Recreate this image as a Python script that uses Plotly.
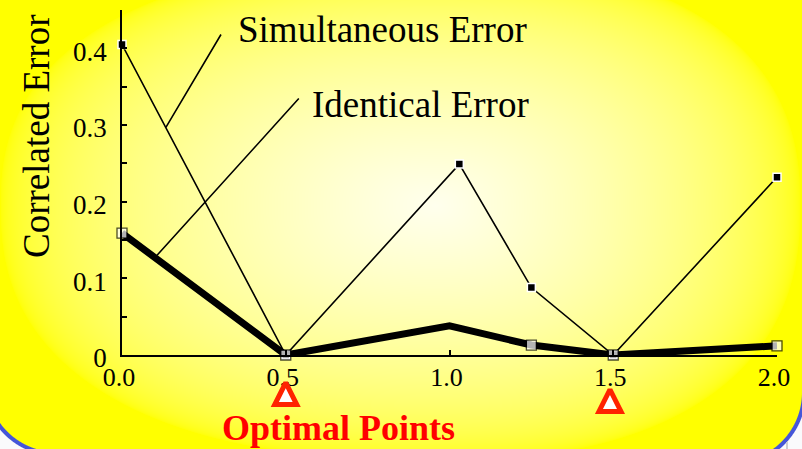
import base64, struct, zlib
import numpy as np
import plotly.graph_objects as go

# ---------------- data ----------------
sim_x = [0.0, 0.5, 1.03, 1.25, 1.5, 2.0]
sim_y = [0.405, 0.0, 0.249, 0.088, 0.0, 0.232]
ident_x = [0.0, 0.5, 1.0, 1.25, 1.5, 2.0]
ident_y = [0.159, 0.0, 0.038, 0.013, 0.0, 0.012]
optimal_x = [0.5, 1.49]
optimal_y = [-0.036, -0.045]
x_ticks = [0.0, 0.5, 1.0, 1.5, 2.0]
x_ticktext = ["0.0", "0.5", "1.0", "1.5", "2.0"]
y_ticks = [0.0, 0.1, 0.2, 0.3, 0.4]
y_ticktext = ["0", "0.1", "0.2", "0.3", "0.4"]

# ---------------- layout geometry ----------------
W, H = 802, 449
L, R, T, B = 122, 25, 10, 20
PW, PH = W - L - R, H - T - B
AXIS_Y = 355                      # pixel row of the x axis
Y_TOP = 0.45
SCALE = (AXIS_Y - T) / Y_TOP       # px per data unit
Y_DOM0 = (H - B - AXIS_Y) / PH
Y2_MIN = -(H - B - AXIS_Y) / SCALE
SERIF = "Liberation Serif, Times New Roman, serif"


def px(x):
    return (x - L) / PW


def py(y):
    return (H - B - y) / PH


# ---------------- background image (gradient panel) ----------------
yy, xx = np.mgrid[0:H, 0:W].astype(float)
cx, cy = 435.0, 205.0
ax = np.where(xx < cx, 435.0, 365.0)
ay = np.where(yy < cy, 245.0, 255.0)
p = 2.4
d = (np.abs((xx - cx) / ax) ** p + np.abs((yy - cy) / ay) ** p) ** (1 / p)
d = np.clip(d, 0, 1)
blue_ch = 238.0 * np.sqrt(1 - d)
img = np.zeros((H, W, 3), float)
img[..., 0] = 255
img[..., 1] = 255
img[..., 2] = blue_ch

dist = np.full((H, W), -100.0)
r = 70.0
m1 = (xx < 56) & (yy > 382)
dist[m1] = np.hypot(xx[m1] - 56, yy[m1] - 382) - r
m2 = (xx > 732) & (yy > 392)
dist[m2] = np.hypot(xx[m2] - 732, yy[m2] - 392) - r
blue = np.array([70, 86, 216], float)
white = np.array([250, 250, 252], float)
a_blue = np.clip(dist + 1.0, 0, 1)[..., None]
a_out = np.clip(dist - 3.0, 0, 1)[..., None]
img = img * (1 - a_blue) + blue * a_blue
img = img * (1 - a_out) + white * a_out
edge = (np.abs(xx - 786.5) < 1.2) & (dist > 3.5)
img[edge] = [205, 205, 212]
img = np.clip(img, 0, 255).astype(np.uint8)


def png_bytes(arr):
    h, w, _ = arr.shape
    raw = b"".join(b"\x00" + arr[i].tobytes() for i in range(h))

    def chunk(t, data):
        c = struct.pack(">I", len(data)) + t + data
        return c + struct.pack(">I", zlib.crc32(t + data) & 0xFFFFFFFF)

    return (b"\x89PNG\r\n\x1a\n" + chunk(b"IHDR", struct.pack(">IIBBBBB", w, h, 8, 2, 0, 0, 0))
            + chunk(b"IDAT", zlib.compress(raw, 9)) + chunk(b"IEND", b""))


bg_uri = "data:image/png;base64," + base64.b64encode(png_bytes(img)).decode()

# ---------------- figure ----------------
fig = go.Figure()

fig.add_trace(go.Scatter(
    x=sim_x, y=sim_y, mode="lines+markers", cliponaxis=False,
    line=dict(color="black", width=1.6),
    marker=dict(symbol="square", size=8, color="black", line=dict(color="white", width=1.5)),
    showlegend=False, hoverinfo="skip"))

fig.add_trace(go.Scatter(
    x=ident_x, y=ident_y, mode="lines+markers", cliponaxis=False,
    line=dict(color="black", width=7),
    marker=dict(symbol="square", size=[10, 10, 0, 10, 10, 10], color="white",
                line=dict(color="black", width=1.3)),
    showlegend=False, hoverinfo="skip"))

fig.add_trace(go.Scatter(
    x=optimal_x, y=optimal_y, xaxis="x", yaxis="y2", mode="markers", cliponaxis=False,
    marker=dict(symbol="arrow-up", size=22, color="white",
                line=dict(color="#ff2200", width=5)),
    showlegend=False, hoverinfo="skip"))

annotations = [
    dict(text="Simultaneous Error", x=px(236), y=py(29), xanchor="left", yanchor="middle"),
    dict(text="Identical Error", x=px(310), y=py(104), xanchor="left", yanchor="middle"),
    dict(text="Correlated Error", x=px(36), y=py(137), xanchor="center", yanchor="middle",
         textangle=-90),
]
for a in annotations:
    a.update(xref="paper", yref="paper", showarrow=False,
             font=dict(family=SERIF, size=37, color="black"))

annotations.append(dict(text="<b>Optimal Points</b>", x=px(338), y=py(428), xref="paper",
                        yref="paper", showarrow=False, xanchor="center", yanchor="middle",
                        font=dict(family=SERIF, size=36, color="#ff0000")))

annotations.append(dict(x=0.134, y=0.297, ax=0.305, ay=0.42, xref="x", yref="y", axref="x",
                        ayref="y", text="", showarrow=True, arrowhead=0, arrowwidth=1.6,
                        arrowcolor="black"))
annotations.append(dict(x=0.107, y=0.130, ax=0.544, ay=0.3365, xref="x", yref="y", axref="x",
                        ayref="y", text="", showarrow=True, arrowhead=0, arrowwidth=1.6,
                        arrowcolor="black"))

fig.update_layout(
    width=W, height=H,
    margin=dict(l=L, r=R, t=T, b=B, pad=0, autoexpand=False),
    paper_bgcolor="white", plot_bgcolor="rgba(0,0,0,0)",
    annotations=annotations,
    images=[dict(source=bg_uri, xref="paper", yref="paper", x=-L / PW, y=1 + T / PH,
                 sizex=W / PW, sizey=H / PH, sizing="stretch", xanchor="left",
                 yanchor="top", layer="below")],
    xaxis=dict(range=[0, 2], showgrid=False, zeroline=False, showline=True, linecolor="black",
               linewidth=1.6, ticks="inside", ticklen=5, tickwidth=1.5, tickcolor="black",
               tickvals=x_ticks, ticktext=x_ticktext, ticklabelstandoff=-2, ticklabelshift=-3,
               anchor="y", automargin=False,
               tickfont=dict(family=SERIF, size=26, color="black"), fixedrange=True),
    yaxis=dict(range=[0, Y_TOP], domain=[Y_DOM0, 1], showgrid=False, zeroline=False,
               showline=True, linecolor="black", automargin=False,
               linewidth=1.6, ticks="inside", ticklen=5, tickwidth=1.5, tickcolor="black",
               tickvals=y_ticks, ticktext=y_ticktext, ticklabelstandoff=8, ticklabelshift=3,
               minor=dict(ticks="inside", ticklen=5, tickwidth=1.5, tickcolor="black",
                          dtick=0.05, tick0=0),
               tickfont=dict(family=SERIF, size=27, color="black"), fixedrange=True),
    yaxis2=dict(range=[Y2_MIN, Y_TOP], domain=[0, 1], visible=False, anchor="x",
                automargin=False, fixedrange=True),
)

fig.write_html("out.html", config={"displayModeBar": False},
               post_script="document.body.style.margin='0';document.body.style.overflow='hidden';")
